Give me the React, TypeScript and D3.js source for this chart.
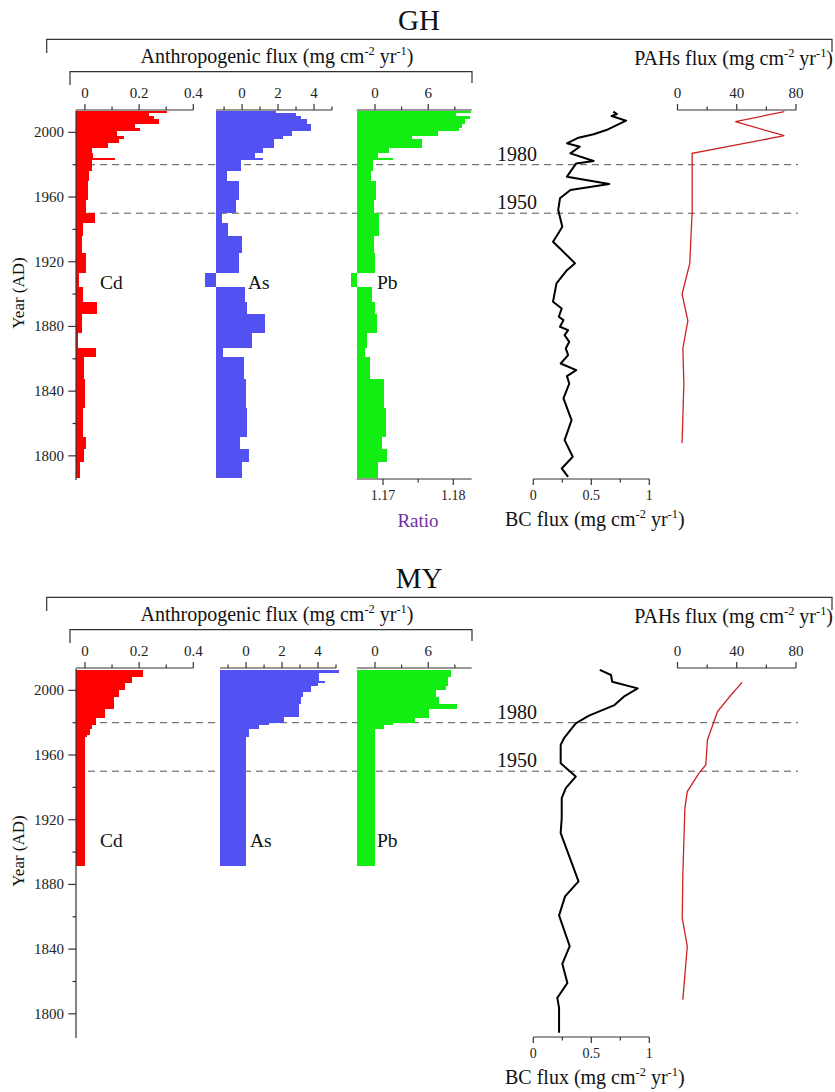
import React from 'react';
import * as d3 from 'd3';

const FONT = 'Liberation Serif, Times New Roman, serif';

// year axis
const YEAR_DOMAIN = [1785, 2013.5];
const YEAR_MAJOR = [1800, 1840, 1880, 1920, 1960, 2000];
const YEAR_MINOR = [1820, 1860, 1900, 1940, 1980];
const MARK_YEARS = [1980, 1950];

// x axis ticks
const CD_TICKS = [0, 0.1, 0.2, 0.3, 0.4];
const CD_LABELS = [0, 0.2, 0.4];
const AS_TICKS = [-1, 0, 1, 2, 3, 4, 5];
const AS_LABELS = [0, 2, 4];
const PB_TICKS = [0, 3, 6, 9];
const PB_LABELS = [0, 6];
const RATIO_TICKS = [1.17, 1.175, 1.18];
const RATIO_LABELS = [1.17, 1.18];
const BC_TICKS = [0, 0.25, 0.5, 0.75, 1];
const BC_LABELS = [0, 0.5, 1];
const PAH_TICKS = [0, 20, 40, 60, 80];
const PAH_LABELS = [0, 40, 80];

// GH core: sample boundaries (years) and fluxes
const GH_BOUNDS = [2013.2, 2011.8, 2010.0, 2008.0, 2005.2, 2002.9, 2000.8, 1997.7, 1995.7, 1993.2, 1990.5,
  1987.4, 1984.0, 1982.8, 1976.1, 1969.9, 1958.1, 1949.9, 1944.1, 1935.9, 1925.6, 1912.8, 1904.1, 1895.3,
  1887.6, 1875.7, 1866.4, 1860.8, 1847.8, 1829.3, 1811.8, 1804.5, 1796.3, 1786.0];
const GH_CD = [0.304, 0.237, 0.254, 0.274, 0.184, 0.202, 0.117, 0.144, 0.125, 0.086, 0.025, 0.028, 0.110,
  0.025, 0.016, 0.012, 0.004, 0.037, -0.006, -0.012, 0.004, -0.021, -0.006, 0.045, -0.012, -0.027, 0.039,
  -0.002, 0.0, -0.006, 0.004, -0.004, -0.018];
const GH_AS = [1.89, 3.0, 3.3, 3.59, 3.85, 3.85, 2.8, 2.3, 1.8, 1.8, 1.15, 0.74, 1.19, -0.05, -0.85, -0.15,
  -0.33, -1.11, -0.76, 0.0, -0.19, -2.04, 0.19, 0.28, 1.3, 0.56, -1.04, 0.09, 0.2, 0.3, -0.09, 0.37, 0.0];
const GH_PB = [10.77, 9.12, 10.7, 10.2, 9.78, 9.5, 7.1, 4.15, 5.26, 5.26, 1.58, 0.29, 2.02, -0.26, -0.44,
  0.11, -0.07, 0.48, 0.4, -0.07, 0.04, -2.72, -0.37, 0.04, 0.22, -0.88, -1.07, -0.51, 1.0, 1.2, 0.74, 1.32, 0.37];
const GH_BC_YEARS = [2012.8, 2011.3, 2010.1, 2007.2, 2001.4, 1998.8, 1996.7, 1993.2, 1991.1, 1987.0, 1982.3,
  1980.8, 1972.6, 1968.0, 1964.3, 1959.2, 1952.0, 1941.6, 1937.5, 1932.4, 1928.2, 1919.0, 1914.8, 1906.6,
  1895.3, 1891.1, 1886.0, 1883.9, 1879.8, 1877.7, 1874.6, 1870.5, 1866.4, 1862.3, 1857.1, 1853.0, 1849.3,
  1844.7, 1835.5, 1822.1, 1809.7, 1799.4, 1792.2, 1787.0];
const GH_BC = [0.69, 0.72, 0.675, 0.8, 0.63, 0.52, 0.39, 0.29, 0.4, 0.32, 0.52, 0.37, 0.29, 0.655, 0.32, 0.23,
  0.215, 0.25, 0.215, 0.17, 0.23, 0.36, 0.29, 0.2, 0.17, 0.245, 0.22, 0.26, 0.23, 0.3, 0.27, 0.31, 0.28, 0.3,
  0.236, 0.37, 0.29, 0.31, 0.26, 0.33, 0.27, 0.34, 0.245, 0.3];
const GH_PAH_YEARS = [2012.8, 2006.6, 1997.9, 1987.0, 1950.9, 1937.5, 1919.0, 1900.0, 1883.5, 1866.4, 1844.7, 1808.0];
const GH_PAH = [72.1, 39.1, 72.1, 9.9, 9.9, 9.2, 8.3, 3.1, 7.0, 3.6, 4.3, 3.1];

// MY core
const MY_BOUNDS = [2012.3, 2011.0, 2008.2, 2006.0, 2004.7, 2002.5, 2000.0, 1998.7, 1995.9, 1991.4, 1988.7,
  1983.6, 1982.6, 1980.1, 1978.5, 1976.0, 1972.3, 1970.9, 1891.7];
const MY_CD = [0.216, 0.216, 0.173, 0.173, 0.148, 0.148, 0.126, 0.126, 0.107, 0.107, 0.074, 0.074, 0.04,
  0.04, 0.027, 0.017, 0.009, 0.0];
const MY_AS = [5.19, 4.07, 4.07, 4.41, 3.98, 3.61, 3.61, 3.19, 3.06, 2.96, 2.96, 2.13, 2.13, 1.3, 0.74,
  0.15, 0.15, 0.0];
const MY_PB = [8.6, 8.6, 8.2, 8.2, 8.2, 8.0, 6.9, 6.9, 7.2, 9.2, 6.1, 6.1, 4.5, 2.0, 1.0, 0.0, 0.0, 0.0];
const MY_BC_YEARS = [2012.6, 2009.5, 2005.3, 2001.2, 1996.1, 1990.9, 1984.4, 1979.6, 1970.4, 1966.3, 1954.9,
  1946.7, 1939.5, 1933.3, 1921.0, 1911.7, 1881.9, 1872.6, 1860.9, 1841.8, 1830.9, 1819.1, 1809.9, 1803.7, 1788.3];
const MY_BC = [0.573, 0.67, 0.68, 0.9, 0.78, 0.7, 0.48, 0.366, 0.265, 0.236, 0.236, 0.366, 0.28, 0.245,
  0.245, 0.236, 0.39, 0.274, 0.222, 0.314, 0.25, 0.294, 0.207, 0.222, 0.222];
const MY_PAH_YEARS = [2004.9, 1997.1, 1986.8, 1969.3, 1953.9, 1948.8, 1937.4, 1927.2, 1886.0, 1859.3, 1841.8, 1808.8];
const MY_PAH = [43.6, 36.1, 27.0, 20.2, 19.1, 14.5, 6.6, 5.0, 3.6, 3.2, 6.6, 3.6];

const AXIS = '#333';

function T(props: any) {
  return <text fontFamily={FONT} fill="#111" {...props} />;
}

function Bars({ x, y, bounds, values, fill }: any) {
  const x0 = x.range()[0];
  return (
    <g fill={fill} shapeRendering="crispEdges">
      {values.map((v: number, i: number) => {
        const x1 = x(v);
        const yt = y(bounds[i]);
        const yb = y(bounds[i + 1]);
        return <rect key={i} x={Math.min(x0, x1)} y={yt} width={Math.abs(x1 - x0)} height={yb - yt} />;
      })}
    </g>
  );
}

function HAxis({ scale, ticks, labels, y, dir, size = 15 }: any) {
  const [a, b] = scale.range();
  // dir -1: ticks up, labels above; 1: ticks down, labels below
  return (
    <g>
      <line x1={a} x2={b} y1={y} y2={y} stroke={AXIS} strokeWidth={1.2} />
      {ticks.map((t: number) => (
        <line key={t} x1={scale(t)} x2={scale(t)} y1={y} y2={y + dir * (labels.includes(t) ? 6 : 3.5)}
          stroke={AXIS} strokeWidth={1.2} />
      ))}
      {labels.map((t: number) => (
        <T key={'l' + t} x={scale(t)} y={dir < 0 ? y - 12 : y + 21} textAnchor="middle" fontSize={size}
          fill="#222">{String(t)}</T>
      ))}
    </g>
  );
}

function FluxLabel({ x, y, anchor, size, prefix }: any) {
  const up = size * 0.38;
  const s = size * 0.62;
  return (
    <T x={x} y={y} textAnchor={anchor} fontSize={size}>
      {prefix} (mg cm<tspan dy={-up} fontSize={s}>-2</tspan><tspan dy={up}> yr</tspan>
      <tspan dy={-up} fontSize={s}>-1</tspan><tspan dy={up}>)</tspan>
    </T>
  );
}

function Site({ off, name, bounds, cd, as, pb, bcYears, bc, pahYears, pah, asShift, ratio }: any) {
  const y = d3.scaleLinear().domain(YEAR_DOMAIN).range([480.1 + off, 110.5 + off]);
  const axisY = 110 + off;
  const xCd = d3.scaleLinear().domain([-0.033, 0.4]).range([76, 193.3]);
  const xAs = d3.scaleLinear().domain([-1.45, 5]).range([216 + asShift, 332 + asShift]);
  const xPb = d3.scaleLinear().domain([-2.06, 10.9]).range([356.7, 471.7]);
  const xRatio = d3.scaleLinear().domain([1.16625, 1.18262]).range([356.7, 471.7]);
  const xBc = d3.scaleLinear().domain([0, 1]).range([533.3, 649.3]);
  const xPah = d3.scaleLinear().domain([0, 80]).range([677.5, 796]);
  const bottomY = y(YEAR_DOMAIN[0]);

  const bcLine = d3.line<number>().x((_, i) => xBc(bc[i])).y((d) => y(d));
  const pahLine = d3.line<number>().x((_, i) => xPah(pah[i])).y((d) => y(d));

  return (
    <g>
      {/* title and brackets */}
      <T x={419} y={30 + off} textAnchor="middle" fontSize={29}>{name}</T>
      <path d={`M46.7,${53 + off}V${39.3 + off}H832V${52 + off}`} fill="none" stroke={AXIS} strokeWidth={1.2} />
      <path d={`M70,${85 + off}V${71.7 + off}H472V${83 + off}`} fill="none" stroke={AXIS} strokeWidth={1.2} />
      <FluxLabel x={277} y={63 + off} anchor="middle" size={20} prefix="Anthropogenic flux" />
      <FluxLabel x={833} y={65 + off} anchor="end" size={20} prefix="PAHs flux" />

      {/* reference years */}
      {MARK_YEARS.map((yr) => (
        <g key={yr}>
          <line x1={76} x2={798} y1={y(yr)} y2={y(yr)} stroke="#555" strokeWidth={1} strokeDasharray="7,5" />
          <T x={497} y={y(yr) - 4} fontSize={20}>{yr}</T>
        </g>
      ))}

      <Bars x={xCd} y={y} bounds={bounds} values={cd} fill="#ff0000" />
      <Bars x={xAs} y={y} bounds={bounds} values={as} fill="#5252f2" />
      <Bars x={xPb} y={y} bounds={bounds} values={pb} fill="#12ee12" />

      {/* year axis */}
      <line x1={76} x2={76} y1={110.5 + off} y2={bottomY} stroke={AXIS} strokeWidth={1.2} />
      {YEAR_MAJOR.map((yr) => (
        <g key={yr}>
          <line x1={68.3} x2={76} y1={y(yr)} y2={y(yr)} stroke={AXIS} strokeWidth={1.2} />
          <T x={64} y={y(yr) + 5} textAnchor="end" fontSize={15} fill="#222">{yr}</T>
        </g>
      ))}
      {YEAR_MINOR.map((yr) => (
        <line key={yr} x1={72.5} x2={76} y1={y(yr)} y2={y(yr)} stroke={AXIS} strokeWidth={1.2} />
      ))}
      <T transform={`translate(24,${293 + off}) rotate(-90)`} textAnchor="middle" fontSize={17}>Year (AD)</T>

      <HAxis scale={xCd} ticks={CD_TICKS} labels={CD_LABELS} y={axisY} dir={-1} />
      <HAxis scale={xAs} ticks={AS_TICKS} labels={AS_LABELS} y={axisY} dir={-1} />
      <HAxis scale={xPb} ticks={PB_TICKS} labels={PB_LABELS} y={axisY} dir={-1} />
      <HAxis scale={xPah} ticks={PAH_TICKS} labels={PAH_LABELS} y={axisY} dir={-1} />
      <HAxis scale={xBc} ticks={BC_TICKS} labels={BC_LABELS} y={479 + off} dir={1} size={14} />
      {ratio && (
        <g>
          <HAxis scale={xRatio} ticks={RATIO_TICKS} labels={RATIO_LABELS} y={479 + off} dir={1} size={14} />
          <T x={418} y={527 + off} textAnchor="middle" fontSize={19} fill="#7030a0">Ratio</T>
        </g>
      )}
      <FluxLabel x={505} y={526 + off} anchor="start" size={20} prefix="BC flux" />

      <T x={100} y={289 + off} fontSize={19.5}>Cd</T>
      <T x={248 + asShift / 2} y={289 + off} fontSize={19.5}>As</T>
      <T x={377} y={289 + off} fontSize={19.5}>Pb</T>

      <path d={bcLine(bcYears) || ''} fill="none" stroke="#000" strokeWidth={2} strokeLinejoin="round" />
      <path d={pahLine(pahYears) || ''} fill="none" stroke="#cc2222" strokeWidth={1.3} />
    </g>
  );
}

export default function App() {
  return (
    <div style={{ position: 'absolute', left: 0, top: 0 }}>
      <svg width={835} height={1092} style={{ display: 'block', background: '#fff', fontFamily: FONT }}>
        <Site off={0} name="GH" bounds={GH_BOUNDS} cd={GH_CD} as={GH_AS} pb={GH_PB}
          bcYears={GH_BC_YEARS} bc={GH_BC} pahYears={GH_PAH_YEARS} pah={GH_PAH}
          asShift={0} ratio={true} />
        <Site off={558} name="MY" bounds={MY_BOUNDS} cd={MY_CD} as={MY_AS} pb={MY_PB}
          bcYears={MY_BC_YEARS} bc={MY_BC} pahYears={MY_PAH_YEARS} pah={MY_PAH}
          asShift={4} ratio={false} />
      </svg>
    </div>
  );
}
